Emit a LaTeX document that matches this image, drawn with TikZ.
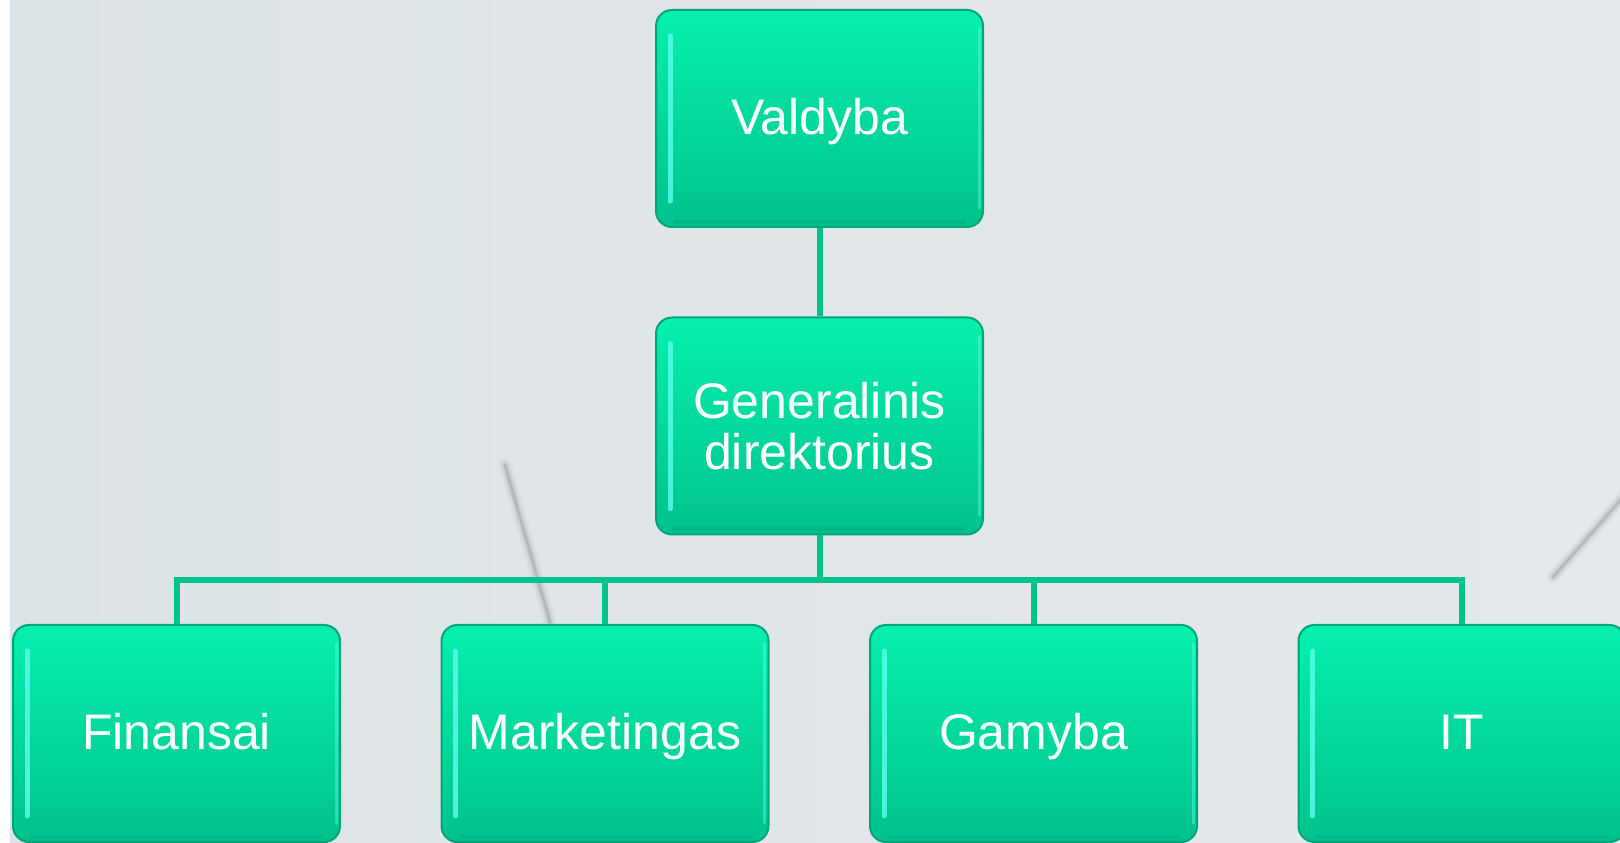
\documentclass[tikz,border=0pt]{standalone}
\usepackage{fontspec}
\setmainfont{Liberation Sans}
\usetikzlibrary{shadings}
\definecolor{bgA}{RGB}{220,227,230}
\definecolor{bgB}{RGB}{229,233,235}
\definecolor{boxTop}{RGB}{6,240,174}
\definecolor{boxBot}{RGB}{0,194,140}
\definecolor{boxEdge}{RGB}{0,165,120}
\definecolor{hlCyan}{RGB}{90,250,235}
\definecolor{conn}{RGB}{0,196,140}
\definecolor{blade}{RGB}{120,124,130}
\tikzset{
  orgbox/.style={rectangle, rounded corners=16pt, draw=boxEdge, line width=2pt,
    top color=boxTop, bottom color=boxBot, minimum width=327pt, minimum height=217pt,
    inner sep=0pt, text=white, align=center,
    font=\fontsize{50}{51}\selectfont},
  onebox/.style={orgbox, text height=40pt, text depth=7pt},
  link/.style={draw=conn, line width=6pt},
  hl/.style={draw=hlCyan, line width=5pt, line cap=round, opacity=0.85},
  hlr/.style={draw=hlCyan, line width=3pt, line cap=round, opacity=0.45},
  hlb/.style={draw=boxEdge, line width=4pt, line cap=round, opacity=0.35},
}
\begin{document}
\begin{tikzpicture}[x=1pt,y=1pt]
\useasboundingbox (0,0) rectangle (1620,843);
\begin{scope}
\clip (0,0) rectangle (1620,843);
\fill[white] (0,0) rectangle (1620,843);
\shade[left color=bgA, right color=bgB] (10,0) rectangle (1620,843);
% faint background blades
\foreach \w/\o in {14/0.04,10/0.06,7/0.09,4/0.14,2/0.18}{
  \draw[blade, line width=\w pt, opacity=\o, line cap=round] (505,378) -- (550,221);
  \draw[blade, line width=\w pt, opacity=\o, line cap=round] (1553,266) -- (1625,348);
}
% nodes
\node[onebox] (v) at (819.5,724.5) {Valdyba};
\node[orgbox] (g) at (819.5,417) {Generalinis\\direktorius};
\node[onebox] (f) at (176.5,109.5) {Finansai};
\node[onebox] (m) at (605,109.5) {Marketingas};
\node[onebox] (gm) at (1033.5,109.5) {Gamyba};
\node[onebox] (it) at (1462,109.5) {IT};
% highlights
\foreach \n in {v,g,f,m,gm,it}{
  \draw[hl] ([xshift=15pt,yshift=-27pt]\n.north west) -- ([xshift=15pt,yshift=27pt]\n.south west);
  \draw[hlr] ([xshift=-5pt,yshift=-20pt]\n.north east) -- ([xshift=-5pt,yshift=20pt]\n.south east);
  \draw[hlb] ([xshift=20pt,yshift=6pt]\n.south west) -- ([xshift=-20pt,yshift=6pt]\n.south east);
}
% connectors
\coordinate (bus) at (819.5,263);
\draw[link] (v.south) -- (g.north);
\draw[link] (g.south) -- (bus);
\draw[link] (f.north) |- (bus) -| (it.north);
\draw[link] (m.north) -- (m.north |- bus);
\draw[link] (gm.north) -- (gm.north |- bus);
\end{scope}
\end{tikzpicture}
\end{document}
